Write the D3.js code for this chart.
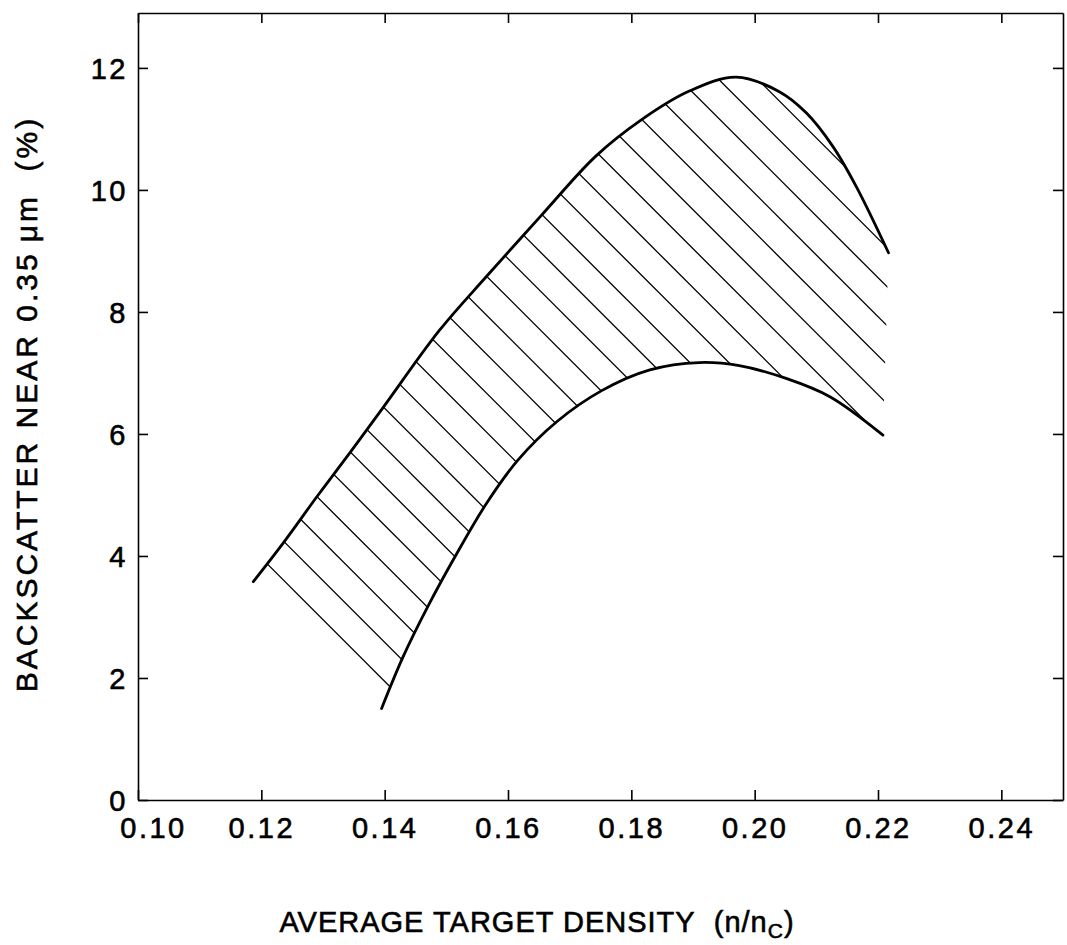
<!DOCTYPE html>
<html>
<head>
<meta charset="utf-8">
<script src="https://cdn.jsdelivr.net/npm/d3@7"></script>
<style>
  html, body { margin: 0; padding: 0; background: #fff; }
  svg { display: block; }
  text { font-family: "Liberation Sans", Arial, Helvetica, sans-serif; fill: #000; stroke: #000; stroke-width: 0.6px; }
</style>
</head>
<body>
<svg id="chart" width="1067" height="945"></svg>
<script>
// Axis ticks
const xTicks = [0.10, 0.12, 0.14, 0.16, 0.18, 0.20, 0.22, 0.24];
const yTicks = [0, 2, 4, 6, 8, 10, 12];

// Upper boundary of the backscatter band (density n/nc, backscatter %)
const upperX = [0.1187, 0.1236, 0.1290, 0.1345, 0.1398, 0.1489, 0.1565, 0.1653, 0.1742,
                0.1815, 0.1894, 0.1970, 0.2040, 0.2084, 0.2127, 0.2165, 0.2217];
const upperY = [3.58, 4.22, 4.97, 5.71, 6.44, 7.70, 8.58, 9.57, 10.55,
                11.14, 11.62, 11.85, 11.61, 11.26, 10.71, 10.05, 8.97];

// Lower boundary of the backscatter band
const lowerX = [0.1395, 0.1430, 0.1472, 0.1517, 0.1565, 0.1616, 0.1679, 0.1752, 0.1830,
                0.1910, 0.1975, 0.2051, 0.2122, 0.2208];
const lowerY = [1.50, 2.35, 3.21, 4.04, 4.86, 5.57, 6.20, 6.71, 7.05,
                7.17, 7.12, 6.91, 6.61, 5.98];

const svg = d3.select("#chart");
const plot = { left: 138, right: 1063, top: 13, bottom: 800 };

const x = d3.scaleLinear().domain([0.10, 0.25]).range([plot.left, plot.right]);
const y = d3.scaleLinear().domain([0, 12.9]).range([plot.bottom, plot.top]);

const fontSize = 29;

// Frame with inward ticks on all four sides
const axisStroke = 1.6;
function styleAxis(g) {
  g.selectAll("path.domain").attr("stroke", "#000").attr("stroke-width", axisStroke);
  g.selectAll(".tick line").attr("stroke", "#000").attr("stroke-width", axisStroke);
  g.selectAll("text").attr("font-size", fontSize).attr("letter-spacing", 2.5)
    .attr("font-family", null).attr("fill", "#000");
}

const bottom = svg.append("g")
  .attr("transform", `translate(0,${plot.bottom})`)
  .call(d3.axisBottom(x).tickValues(xTicks).tickSize(-10).tickSizeOuter(0)
        .tickFormat(d3.format(".2f")))
  .call(styleAxis);
bottom.selectAll(".tick text").attr("y", 38).attr("dy", 0)
  .attr("dx", (d, i) => i === 0 ? 15 : 0);

const left = svg.append("g")
  .attr("transform", `translate(${plot.left},0)`)
  .call(d3.axisLeft(y).tickValues(yTicks).tickSize(-10).tickSizeOuter(0).tickPadding(10))
  .call(styleAxis);
left.selectAll(".tick text").attr("dy", "0.35em");

svg.append("g")
  .attr("transform", `translate(0,${plot.top})`)
  .call(d3.axisTop(x).tickValues(xTicks).tickSize(-10).tickSizeOuter(0).tickFormat(""))
  .call(styleAxis);

svg.append("g")
  .attr("transform", `translate(${plot.right},0)`)
  .call(d3.axisRight(y).tickValues(yTicks).tickSize(-10).tickSizeOuter(0).tickFormat(""))
  .call(styleAxis);

// Boundary curves
const upperPts = upperX.map((v, i) => [x(v), y(upperY[i])]);
const lowerPts = lowerX.map((v, i) => [x(v), y(lowerY[i])]);
const line = d3.line().curve(d3.curveCatmullRom.alpha(0.5));

// Region between the curves, used to clip the hatching
const bandPath = line(upperPts) + line(lowerPts.slice().reverse()).replace(/^M/, "L") + "Z";
svg.append("clipPath").attr("id", "band-clip")
  .append("path").attr("d", bandPath);

// Diagonal hatching (lines running down to the right at 45 degrees)
const hatchSpacing = 39;
const hatchPhase = -296.7;
const hatchOffsets = d3.range(-40, 40).map(k => hatchPhase + k * hatchSpacing);
svg.append("g").attr("clip-path", "url(#band-clip)")
  .selectAll("line").data(hatchOffsets).join("line")
  .attr("x1", plot.left).attr("y1", c => plot.left - c)
  .attr("x2", plot.right).attr("y2", c => plot.right - c)
  .attr("stroke", "#000").attr("stroke-width", 1.3);

svg.append("path").attr("d", line(upperPts))
  .attr("fill", "none").attr("stroke", "#000").attr("stroke-width", 2.8)
  .attr("stroke-linecap", "round");
svg.append("path").attr("d", line(lowerPts))
  .attr("fill", "none").attr("stroke", "#000").attr("stroke-width", 2.8)
  .attr("stroke-linecap", "round");

// Axis titles
const xTitle = svg.append("text")
  .attr("x", 537).attr("y", 932)
  .attr("text-anchor", "middle")
  .attr("font-size", fontSize).attr("letter-spacing", 1);
xTitle.append("tspan").text("AVERAGE TARGET DENSITY\u00a0\u00a0(n/n");
xTitle.append("tspan").attr("font-size", 21).attr("dy", 6).text("C");
xTitle.append("tspan").attr("dy", -6).text(")");

const yTitle = svg.append("text")
  .attr("transform", "translate(37,404) rotate(-90)")
  .attr("text-anchor", "middle")
  .attr("font-size", 30).attr("letter-spacing", 3);
yTitle.append("tspan").text("BACKSCATTER NEAR 0.35\u2009\u03bcm\u00a0\u00a0(%)");
</script>
</body>
</html>
